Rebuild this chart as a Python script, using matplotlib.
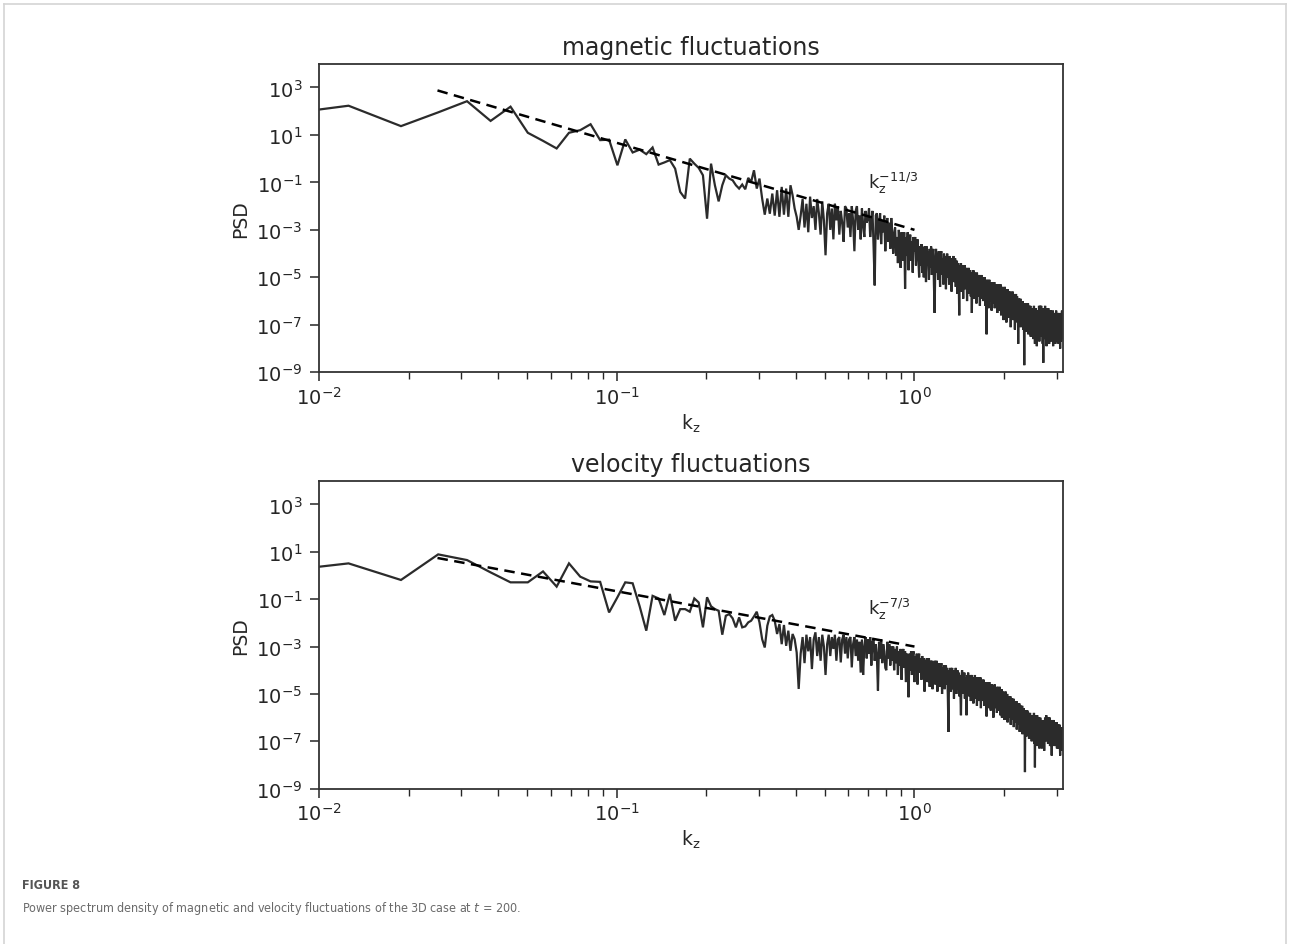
import numpy as np
import matplotlib
matplotlib.use("Agg")
import matplotlib.pyplot as plt
from matplotlib import font_manager
from matplotlib.ticker import LogLocator, NullLocator, NullFormatter
from matplotlib.lines import Line2D

# ---------------------------------------------------------------------------
# Spectral data: log10(PSD) on the wavenumber grid k_z = 2*pi*n / L_z, n = 1..500
# ---------------------------------------------------------------------------
box_length = 1000.0

magnetic_log_psd = [
    1.74, 2.23, 1.37, 1.95, 2.42, 1.59, 2.19, 1.09, 0.75, 0.43,
    1.09, 1.20, 1.45, 0.78, 0.80, -0.28, 0.81, 0.26, 0.38, 0.19,
    0.47, -0.25, -0.16, -0.06, -0.42, -1.40, -1.68, 0.00, -0.21, -0.39,
    -0.70, -2.53, -0.21, -1.12, -1.80, -1.12, -0.70, -0.84, -0.91, -1.12,
    -1.26, -1.09, -1.29, -0.81, -0.98, -0.49, -1.26, -0.84, -1.68, -2.36,
    -1.68, -2.32, -1.47, -2.40, -1.33, -2.45, -1.19, -2.36, -1.26, -2.45,
    -1.12, -1.54, -2.10, -2.45, -3.00,
    -2.4, -1.7, -2.9, -1.9, -3.1, -1.6, -2.5, -2.0, -3.0, -1.7, -2.3, -3.2, -1.8, -2.6, -4.07,
    -2.3, -1.9, -3.0, -2.1, -3.4, -1.9, -2.6, -2.0, -3.2, -2.2,
    -2.7, -3.5, -2.0, -2.1, -2.9, -2.3, -3.3, -2.0, -2.6, -3.9,
    -2.2, -2.0, -3.0, -2.4, -3.4, -2.1, -2.8, -3.3, -2.2, -2.7,
    -2.5, -2.1, -3.3, -2.7, -2.2, -3.7, -5.34, -2.4, -2.3, -3.4,
    -2.8, -2.3, -3.6, -2.6, -3.1, -2.4, -3.9, -2.9, -2.5, -3.5,
    -2.7, -3.8, -2.5, -3.1, -4.0,
    -3.2, -2.9, -4.1, -3.3, -4.4, -3.0, -3.7, -4.6, -3.1, -3.6,
    -4.3, -3.1, -5.48, -3.3, -4.1, -3.1, -4.7, -3.6, -3.2, -4.3,
    -3.5, -4.8, -3.3, -3.9, -3.3, -4.5, -3.8, -3.4, -4.2, -5.0,
    -3.7, -4.5, -3.6, -4.8, -3.9, -5.0, -3.7, -4.2, -5.2, -3.7,
    -4.5, -3.9, -5.1, -3.8, -4.6, -3.7, -4.9, -4.1, -3.8, -5.3,
    -6.5, -4.3, -3.8, -4.8, -4.0, -5.1, -3.9, -4.4, -5.4, -4.0,
    -3.9, -4.9, -4.2, -5.3, -4.0, -4.6, -4.1, -5.5, -4.3, -4.0,
    -5.0, -4.2, -5.3, -4.1, -4.7, -4.2, -5.6, -4.2, -4.9, -4.1,
    -5.2, -4.4, -4.2, -5.4, -4.5, -4.3, -5.7, -4.4, -5.0, -6.6,
    -4.5, -5.3, -4.4, -5.6, -4.7, -4.5, -5.9, -4.6, -5.2, -4.5,
    -5.5, -4.7, -4.6, -6.0, -4.7, -5.3, -4.6, -5.7, -4.8, -4.7,
    -5.8, -4.8, -6.5, -4.9, -5.4, -4.7, -5.9, -5.0, -4.8, -5.6,
    -4.9, -6.1, -4.8, -5.4, -5.0, -5.8, -4.9, -5.3, -6.2, -5.0,
    -5.5, -4.9, -5.9, -5.1, -5.0, -6.0, -5.1, -5.6, -5.0, -6.2,
    -5.2, -5.7, -7.4, -5.1, -5.6, -5.2, -6.3, -5.3, -5.1, -6.0,
    -5.3, -5.9, -5.2, -6.4, -5.4, -5.2, -6.1, -5.3, -5.8, -5.2,
    -6.3, -5.4, -5.3, -6.2, -5.5, -5.3, -6.5, -5.4, -5.9, -5.3,
    -6.1, -5.4, -6.4, -5.6, -5.3, -6.6, -5.5, -6.1, -5.4, -6.3,
    -5.6, -6.8, -5.5, -6.0, -5.4, -6.5, -5.7, -5.5, -6.9, -5.6,
    -6.2, -5.5, -6.6, -5.8, -5.6, -6.7, -5.7, -6.3, -5.6, -7.1,
    -5.8, -6.4, -5.7, -6.2, -5.6, -6.8, -5.9, -5.7, -6.6, -5.8,
    -7.2, -5.9, -6.3, -5.7, -6.7, -6.0, -5.8, -6.9, -6.0, -7.8,
    -6.1, -5.9, -6.8, -6.0, -6.5, -5.9, -7.1, -6.1, -6.6, -6.0,
    -6.9, -6.2, -6.0, -7.2, -6.1, -6.6, -8.7, -6.2, -6.8, -6.1,
    -7.3, -6.3, -6.1, -6.9, -6.2, -7.1, -6.3, -6.1, -7.4, -6.3,
    -6.8, -6.2, -7.2, -6.4, -6.2, -7.5, -6.4, -6.9, -6.3, -7.2,
    -6.5, -7.3, -6.3, -7.6, -6.6, -6.2, -7.4, -6.7, -7.8, -6.4,
    -7.1, -6.3, -7.5, -6.7, -7.9, -6.5, -7.2, -6.4, -7.6, -6.8,
    -6.9, -6.2, -7.7, -6.5, -7.0, -6.2, -7.4, -6.6, -6.2, -7.5,
    -6.6, -7.2, -6.3, -7.8, -6.7, -8.6, -6.4, -7.3, -6.3, -7.5,
    -6.7, -6.2, -7.6, -6.5, -7.1, -6.3, -7.9, -6.7, -7.2, -6.4,
    -7.6, -6.7, -6.3, -7.3, -6.5, -7.8, -6.8, -6.4, -7.5, -6.7,
    -7.2, -6.4, -7.7, -6.8, -6.5, -7.6, -6.7, -7.3, -6.4, -7.9,
    -6.8, -7.2, -6.5, -7.6, -6.7, -7.3, -6.5, -7.8, -6.8, -7.2,
    -6.4, -7.6, -6.8, -6.6, -7.7, -6.9, -6.5, -7.5, -6.7, -7.8,
    -6.9, -6.5, -7.6, -6.8, -7.3, -8.0, -6.6, -7.5, -6.5, -7.7,
    -6.8, -7.3, -6.4, -7.6, -6.9,
]

velocity_log_psd = [
    0.08, 0.51, -0.19, 0.89, 0.65, 0.13, -0.29, -0.29, 0.17, -0.47,
    0.51, -0.05, -0.25, -0.27, -1.56, -0.92, -0.29, -0.33, -1.30, -2.33,
    -0.86, -0.97, -1.67, -0.78, -1.91, -1.42, -1.42, -1.53, -0.97, -1.14,
    -2.19, -0.92, -1.30, -1.42, -1.49, -2.50, -1.70, -1.63, -1.81, -2.19,
    -1.77, -2.19, -2.15, -1.98, -1.91, -1.73, -1.53, -1.98, -2.69, -3.04,
    -2.12, -1.73, -1.67, -1.91, -2.47, -2.05, -2.90, -2.09, -2.97, -2.33,
    -3.18, -2.47, -2.69, -3.25, -4.79,
    -3.3, -2.6, -3.7, -2.5, -3.2, -2.6, -3.95, -2.7, -2.4, -3.4, -2.6, -3.6, -2.5, -3.0, -4.2,
    -2.9, -2.5, -3.4, -2.6, -3.1, -2.5, -3.6, -2.7, -2.6, -3.67,
    -2.7, -2.5, -3.3, -2.6, -3.5, -2.7, -2.6, -3.88, -2.9, -2.6,
    -3.4, -2.7, -3.6, -2.8, -4.1, -2.7, -4.2,
    -3.0, -2.6, -3.5, -2.7, -3.3, -2.6, -3.8, -2.8, -2.7, -3.6,
    -2.9, -3.4, -4.86, -2.8, -3.5, -2.7, -3.7, -2.9, -3.2, -3.9,
    -4.0, -2.8, -3.5, -2.9, -3.8, -3.0,
    -3.6, -3.0, -4.0, -3.1, -3.7, -3.0, -4.2, -3.2, -3.8, -3.1,
    -4.4, -3.3, -3.1, -3.9, -3.2, -4.5, -3.3, -3.8, -5.14, -3.3,
    -4.0, -3.2, -4.2, -3.4, -3.2, -4.5, -3.4, -4.0, -3.3, -4.6,
    -3.5, -3.3, -4.1, -3.5, -4.4, -3.4, -4.0, -3.5, -4.9,
    -3.6, -4.3, -3.5, -4.5, -3.7, -3.5, -4.7, -3.6, -4.2, -3.6,
    -4.8, -3.7, -4.3, -3.6, -4.6, -3.8, -3.6, -4.9, -3.8, -4.4,
    -3.7, -4.7, -3.9, -3.7, -5.0, -3.9, -4.5, -3.8, -4.8, -4.0,
    -3.8, -4.6, -3.9, -5.1, -6.6, -4.0, -4.7, -3.9, -4.9, -4.1,
    -3.9, -4.8, -4.0, -5.2, -4.1, -4.6, -3.9, -5.0, -4.2, -4.0,
    -4.8, -4.1, -5.1, -4.2, -4.9, -5.9, -4.3, -4.0, -5.0, -4.2,
    -4.8, -4.1, -5.2, -4.3, -4.9, -5.9, -4.2, -4.8, -4.1, -5.1,
    -4.3, -4.9, -4.2, -5.3, -4.4, -4.2, -5.0, -4.3, -5.4, -4.4,
    -4.9, -4.2, -5.2, -4.5, -4.3, -5.5, -4.4, -5.0, -4.3, -5.3,
    -4.5, -5.1, -4.3, -5.6, -4.5, -5.0, -4.4, -5.3, -4.6, -4.4,
    -5.5, -4.6, -5.2, -4.5, -5.4, -5.95, -4.6, -5.2, -4.5, -5.6,
    -4.7, -4.5, -5.3, -4.6, -5.7, -4.7, -5.2, -4.6, -5.5, -4.8,
    -6.0, -4.7, -5.3, -4.6, -5.6, -4.8, -5.4, -4.7, -5.8, -4.8,
    -5.3, -4.7, -5.7,
    -4.9, -5.5, -4.7, -5.9, -4.9, -5.4, -4.8, -6.0, -5.0, -5.6,
    -4.9, -5.8, -5.0, -6.1, -5.1, -5.6, -4.9, -5.9, -5.1, -5.7,
    -5.0, -6.2, -5.2, -5.7, -5.1, -6.0, -5.2, -5.8, -5.1, -6.3,
    -5.3, -5.8, -5.2, -6.1, -5.3, -5.9, -5.2, -6.4, -5.4, -5.9,
    -5.3, -6.2, -5.4, -6.0, -5.3, -6.5, -5.5, -6.0, -5.4, -6.3,
    -5.5, -6.1, -5.4, -6.6, -5.6, -6.1, -5.5, -6.4, -5.6, -6.2,
    -5.5, -6.7, -5.7, -6.2, -5.6, -6.5, -5.7, -6.3, -8.3, -5.7,
    -6.3, -5.7, -6.8, -5.8, -6.4, -5.7, -6.6, -5.9, -6.4, -5.8,
    -6.9, -5.9, -6.5, -5.8, -6.7, -6.0, -6.5, -5.9, -7.0, -6.0,
    -6.6, -5.9, -6.9, -6.0, -6.5, -5.8, -7.1, -6.1, -8.1, -6.0,
    -6.7, -5.9, -7.0, -6.1, -6.6, -5.9, -7.2, -6.2, -6.7, -6.0,
    -6.9, -6.2, -7.3, -6.1, -6.7, -6.0, -7.0, -6.3, -6.8, -6.1,
    -7.3, -6.3, -6.8, -6.1, -7.1, -6.3, -6.9, -6.2, -7.4, -6.4,
    -6.6, -6.0, -6.9, -6.2, -6.7, -5.9, -7.0, -6.2, -6.0, -6.8,
    -6.1, -7.1, -6.2, -6.0, -6.9, -6.2, -6.7, -6.0, -7.2, -6.2,
    -6.8, -6.1, -7.0, -6.3, -7.6, -6.2, -6.9, -6.1, -7.1, -6.3,
    -6.8, -6.1, -7.2, -6.3, -6.9, -6.2, -7.1, -6.4, -6.2, -7.2,
    -6.4, -6.9, -6.2, -7.3, -6.4, -7.0, -6.3, -7.2, -6.5, -6.3,
    -7.3, -6.5, -7.0, -6.3, -7.2, -7.6, -6.5, -7.1, -6.4, -7.3,
    -6.6, -7.1, -6.4, -7.4, -6.7,
]

mode_number = np.arange(1, len(magnetic_log_psd) + 1)
kz = 2.0 * np.pi * mode_number / box_length

# Reference power laws A * k_z^alpha drawn over [k_start, k_end]
fit_range = [0.025, 1.0]
fit_amplitude = 1.0e-3
magnetic_slope = -11.0 / 3.0
velocity_slope = -7.0 / 3.0

titles = ["magnetic fluctuations", "velocity fluctuations"]
slope_labels = [r"$\mathregular{k_z^{-11/3}}$", r"$\mathregular{k_z^{-7/3}}$"]
slope_label_pos = [(0.70, 0.10), (0.70, 0.042)]
ytick_values = [1e-9, 1e-7, 1e-5, 1e-3, 1e-1, 1e1, 1e3]

caption_head = "FIGURE 8"
caption_body = r"Power spectrum density of magnetic and velocity fluctuations of the 3D case at $\mathit{t}$ = 200."

# ---------------------------------------------------------------------------
TEXT = "#262626"
LINE = "#2b2b2b"

plt.rcParams.update({
    "font.family": ["DejaVu Sans"],
    "text.color": TEXT,
    "axes.labelcolor": TEXT,
    "xtick.color": TEXT,
    "ytick.color": TEXT,
    "axes.edgecolor": "#333333",
    "axes.linewidth": 1.3,
})

W, H = 1290, 945
fig = plt.figure(figsize=(W / 100, H / 100), dpi=100)

ax_left = 319 / W
ax_width = (1062.5 - 319) / W
ax_top = fig.add_axes([ax_left, 1 - 373.3 / H, ax_width, (373.3 - 64.7) / H])
ax_bot = fig.add_axes([ax_left, 1 - 789.7 / H, ax_width, (789.7 - 481.7) / H])

series = [np.power(10.0, magnetic_log_psd), np.power(10.0, velocity_log_psd)]
slopes = [magnetic_slope, velocity_slope]

for ax, psd, slope, title, lab, pos in zip([ax_top, ax_bot], series, slopes, titles,
                                           slope_labels, slope_label_pos):
    ax.plot(kz, psd, color=LINE, lw=1.6, solid_joinstyle="miter")
    fk = np.array(fit_range)
    ax.plot(fk, fit_amplitude * fk ** slope, color="black", lw=1.8, ls=(0, (4.2, 2.6)))
    ax.set_xscale("log")
    ax.set_yscale("log")
    ax.set_xlim(1e-2, kz.max())
    ax.set_ylim(1e-9, 1e4)
    ax.set_yticks(ytick_values)
    ax.yaxis.set_minor_locator(NullLocator())
    ax.xaxis.set_major_locator(LogLocator(base=10))
    ax.xaxis.set_minor_locator(LogLocator(base=10, subs=np.arange(2, 10)))
    ax.xaxis.set_minor_formatter(NullFormatter())
    ax.tick_params(axis="both", which="major", direction="out", length=6.5, width=1.1,
                   labelsize=14)
    ax.tick_params(axis="y", which="major", pad=5.5)
    ax.tick_params(axis="x", which="major", pad=3)
    ax.tick_params(axis="x", which="minor", direction="out", length=5, width=1.0)
    ax.set_title(title, fontsize=17, pad=7, color=TEXT)
    ax.set_ylabel("PSD", fontsize=13.5, labelpad=4)
    ax.set_xlabel(r"$\mathregular{k_z}$", fontsize=13.5, labelpad=3)
    ax.text(pos[0], pos[1], lab, fontsize=13, color=TEXT, va="center", ha="left")


# Caption: prefer a narrow sans face if one is installed
def narrow_font(bold):
    best = None
    for f in font_manager.fontManager.ttflist:
        name = f.name.lower()
        path = f.fname.lower()
        if not ("narrow" in name or "condensed" in name or "narrow" in path or "condensed" in path):
            continue
        if "mono" in name or "italic" in path or "oblique" in path:
            continue
        if "serif" in name.replace("sans", "") and "sans" not in name:
            continue
        is_bold = "bold" in path or f.weight in ("bold", 700)
        if is_bold == bold:
            return f.fname
        if best is None:
            best = f.fname
    return best


def caption_props(bold, size):
    path = narrow_font(bold)
    if path:
        return font_manager.FontProperties(fname=path, size=size), True
    return font_manager.FontProperties(family="DejaVu Sans", size=size,
                                       weight="bold" if bold else "normal"), False


head_prop, head_narrow = caption_props(True, 11)
body_prop, body_narrow = caption_props(False, 10)

head = fig.text(22 / W, 1 - 886 / H, caption_head, fontproperties=head_prop,
                color="#555555", va="center", ha="left")
body = fig.text(22 / W, 1 - 909 / H, caption_body, fontproperties=body_prop,
                color="#6a6a6a", va="center", ha="left")

# Scale the caption so its printed width fits the page layout
fig.canvas.draw()
renderer = fig.canvas.get_renderer()
for txt, target, is_narrow in [(head, 58.0, head_narrow), (body, 500.0, body_narrow)]:
    width = txt.get_window_extent(renderer).width
    scale = target / width
    if not is_narrow:
        scale = min(1.0, scale * 1.2)
    txt.set_fontsize(txt.get_fontsize() * scale)

# Page frame
frame_color = "#d4d4d4"
fig.add_artist(Line2D([4 / W, 4 / W], [0, 1 - 5 / H], transform=fig.transFigure, color=frame_color, lw=1.2))
fig.add_artist(Line2D([4 / W, 1286 / W], [1 - 5 / H, 1 - 5 / H], transform=fig.transFigure, color=frame_color, lw=1.2))
fig.add_artist(Line2D([1286 / W, 1286 / W], [0, 1 - 5 / H], transform=fig.transFigure, color=frame_color, lw=1.2))

fig.savefig("out.png", dpi=100)
